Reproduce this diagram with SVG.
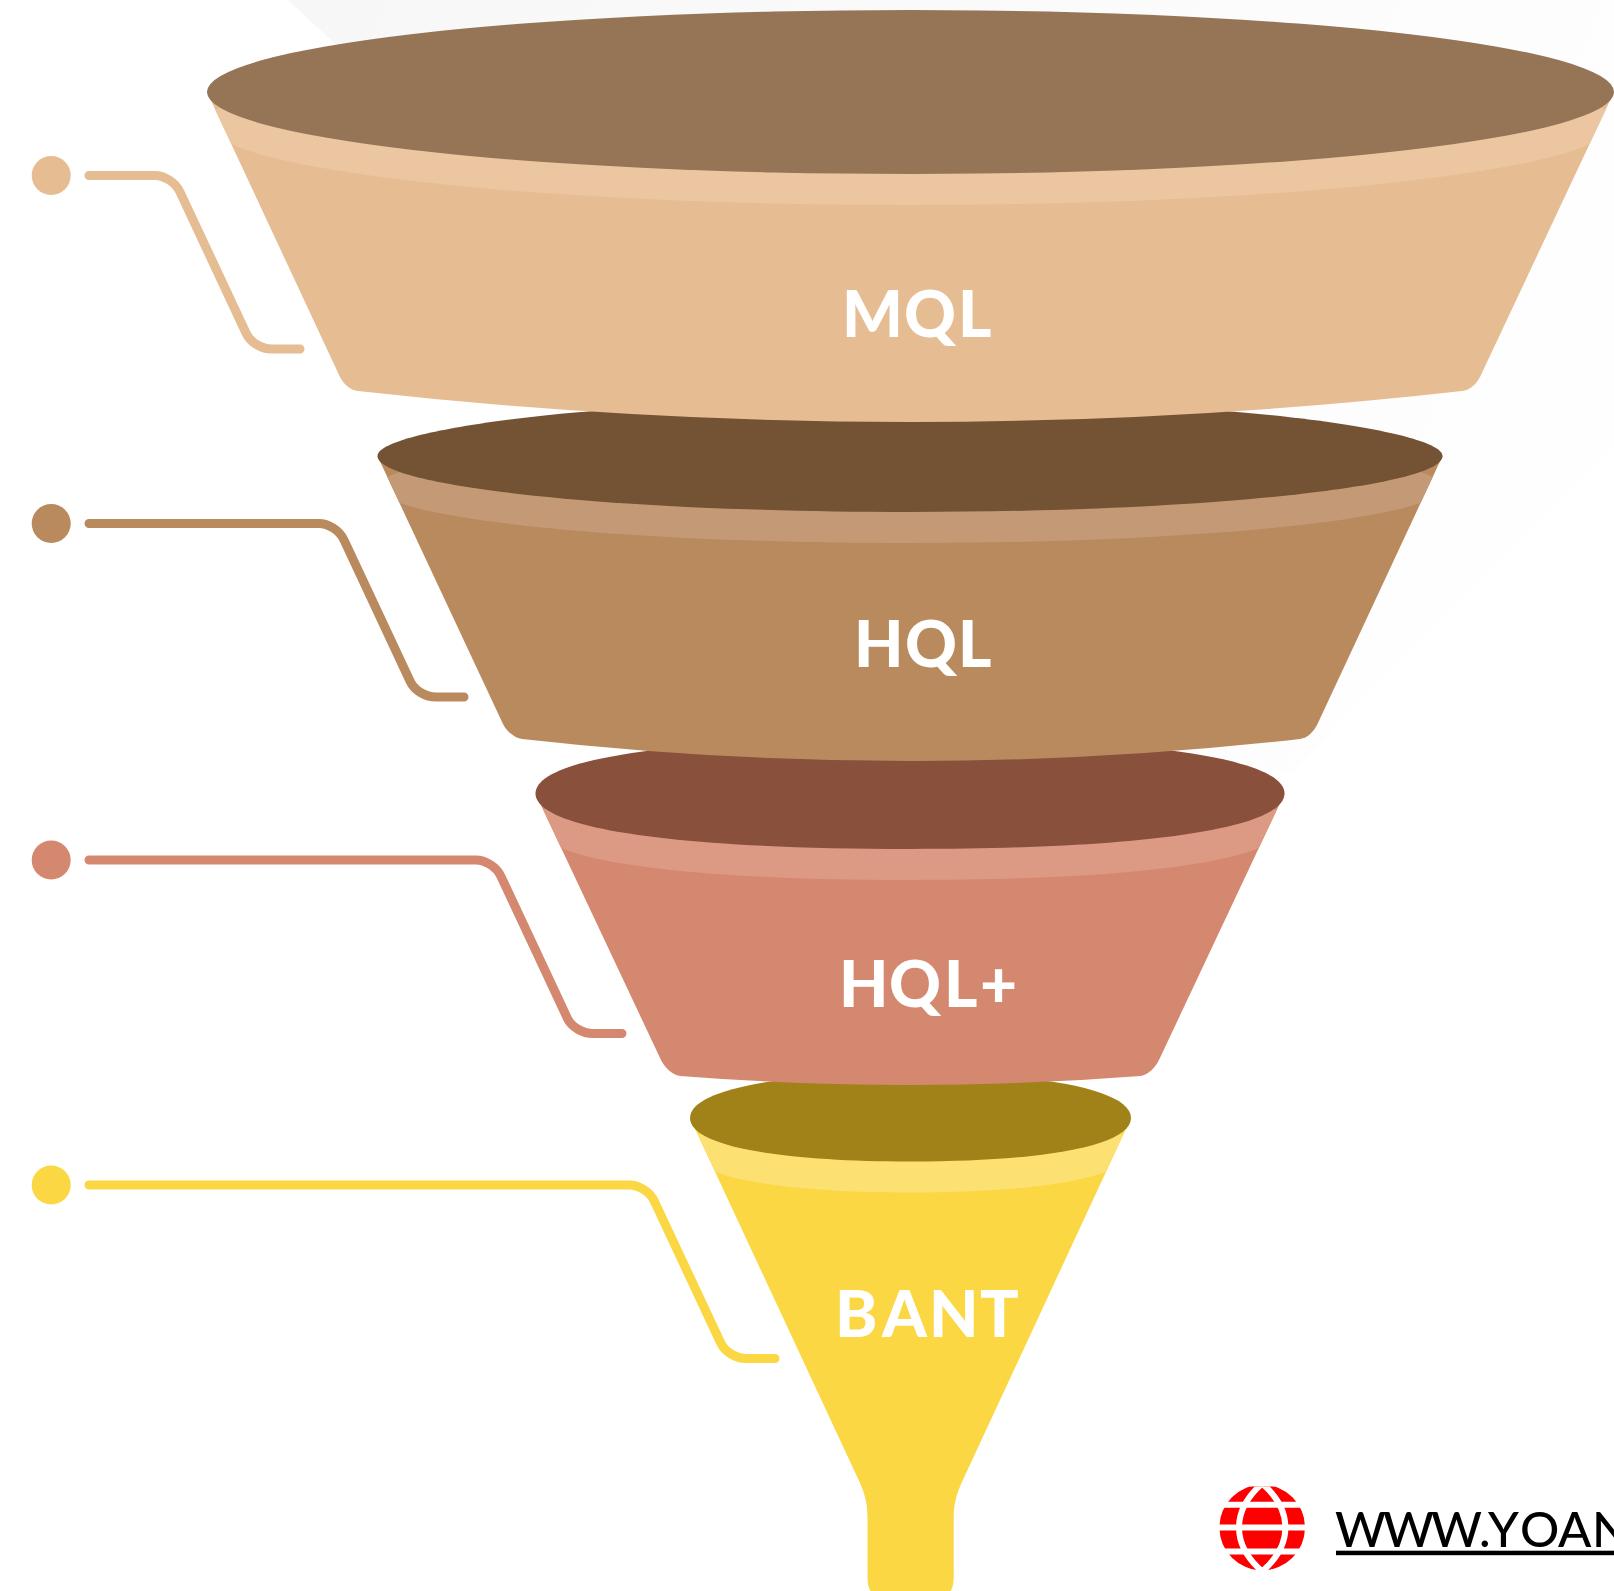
<svg xmlns="http://www.w3.org/2000/svg" width="1614" height="1591" viewBox="0 0 1614 1591">
<style>
.label{font-family:"Lato","Liberation Sans",sans-serif;font-weight:900;font-size:64px;fill:#fff}
.conn{fill:none;stroke-width:9;stroke-linecap:round}
.web{font-family:"Lato","Liberation Sans",sans-serif;font-weight:500;font-size:49px;fill:#000}
.gl{fill:none;stroke:#fff;stroke-width:6}
</style>
<defs>
<linearGradient id="shade" x1="288" y1="0" x2="1500" y2="500" gradientUnits="userSpaceOnUse">
<stop offset="0" stop-color="#f7f7f7"/><stop offset="1" stop-color="#fefefe"/>
</linearGradient>
<clipPath id="globeClip"><rect x="1215" y="1486.500" width="95" height="83.500"/></clipPath>
<path id="b1" d="M207 92L340 377C343.500 384 350 390 358 391Q910 453 1462 391C1470 390 1476.500 384 1480 377L1614 92Z"/>
<path id="b2" d="M377.500 456L503 724C506.500 731 514 738 522 739Q911 783 1300 739C1308 738 1314 731 1317.500 724L1442.500 456Z"/>
<path id="b3" d="M535.500 793.500L661 1060C664.500 1067 672 1075 680 1076Q910 1094 1140.500 1076C1148.500 1075 1155.500 1067 1159 1060L1284.500 793.500Z"/>
<path id="b4" d="M690 1118L860 1483C865 1494 867.500 1505 867.500 1518V1577Q867.500 1591 875 1596H946Q953.700 1591 953.700 1577V1518C953.700 1505 956.500 1494 961.500 1483L1131 1118Z"/>
<ellipse id="e1" cx="910.500" cy="92" rx="703.500" ry="82"/>
<path id="e2" d="M377.500 456C377.500 430.400 590.500 399 910 399C1229.500 399 1442.500 430.400 1442.500 456C1442.500 486.700 1204 512 910 512C616 512 377.500 486.700 377.500 456Z"/>
<path id="e3" d="M535.500 793.500C535.500 758.500 674 738 910 738C1146 738 1284.500 758.500 1284.500 793.500C1284.500 828.500 1146 849 910 849C674 849 535.500 828.500 535.500 793.500Z"/>
<path id="e4" d="M690 1118C690 1091 773 1073 910.500 1073C1048 1073 1131 1091 1131 1118C1131 1145 1048 1161.500 910.500 1161.500C773 1161.500 690 1145 690 1118Z"/>
<clipPath id="c1"><use href="#b1"/></clipPath>
<clipPath id="c2"><use href="#b2"/></clipPath>
<clipPath id="c3"><use href="#b3"/></clipPath>
<clipPath id="c4"><use href="#b4"/></clipPath>
</defs>
<rect width="1614" height="1591" fill="#fff"/>
<polygon id="backdrop" points="288,0 1614,0 1614,447 1290,773 910,700 334,43" fill="url(#shade)"/>

<g id="connectors">
<path class="conn" stroke="#E6BC92" d="M89 175.500H155C164 175.500 175.500 182 180 192L246 333C250.500 343 262 349 272 349H300"/>
<path class="conn" stroke="#BA8A5F" d="M89 523.500H319C328 523.500 339.500 530 344 540L410 681C414.500 691 426 697 436 697H464"/>
<path class="conn" stroke="#D4886F" d="M89 860H476C485 860 496.500 866.500 501 876.500L567 1017.500C571.500 1027.500 583 1033.500 593 1033.500H622"/>
<path class="conn" stroke="#FBD743" d="M89 1185H629.500C638.500 1185 650 1191.500 654.500 1201.500L720.500 1342.500C725 1352.500 736.500 1358.500 746.500 1358.500H775"/>
</g>

<g id="node-bant">
<use href="#b4" fill="#FBD743"/>
<g clip-path="url(#c4)"><use href="#e4" y="31" fill="#FCE072"/></g>
<use href="#e4" fill="#A08218"/>
<text class="label" x="835 882 929 980" y="1337">BANT</text>
<circle cx="51.200" cy="1185" r="19.500" fill="#FBD743"/>
</g>

<g id="node-hqlplus">
<use href="#b3" fill="#D4886F"/>
<g clip-path="url(#c3)"><use href="#e3" y="31" fill="#DC9A84"/></g>
<use href="#e3" fill="#89503C"/>
<text class="label" x="839 889 944 980" y="1006.500">HQL+</text>
<circle cx="51.200" cy="860" r="19.500" fill="#D4886F"/>
</g>

<g id="node-hql">
<use href="#b2" fill="#BA8A5F"/>
<g clip-path="url(#c2)"><use href="#e2" y="31" fill="#C49A76"/></g>
<use href="#e2" fill="#745234"/>
<text class="label" x="854 905 958" y="667">HQL</text>
<circle cx="51.200" cy="523.500" r="19.500" fill="#BA8A5F"/>
</g>

<g id="node-mql">
<use href="#b1" fill="#E6BC92"/>
<g clip-path="url(#c1)"><use href="#e1" y="31" fill="#ECC6A1"/></g>
<use href="#e1" fill="#957556"/>
<text class="label" x="842 904 958" y="337">MQL</text>
<circle cx="51.200" cy="175.500" r="19.500" fill="#E6BC92"/>
</g>

<g id="website">
<g clip-path="url(#globeClip)">
<circle cx="1262.200" cy="1527.500" r="42.800" fill="#f00"/>
<path class="gl" d="M1215 1504.800H1310M1215 1527.500H1310M1215 1551.500H1310"/>
<path class="gl" d="M1264 1482C1246 1497 1239 1512 1239 1527.500C1239 1543 1246 1558 1264 1573"/>
<path class="gl" d="M1260.400 1482C1278.400 1497 1285.400 1512 1285.400 1527.500C1285.400 1543 1278.400 1558 1260.400 1573"/>
</g>
<text class="web" x="1335 1383 1431 1479 1488 1520 1558 1592" y="1546.500">WWW.YOAN</text>
<rect x="1336" y="1550.700" width="278" height="4.500" fill="#000"/>
</g>
</svg>
